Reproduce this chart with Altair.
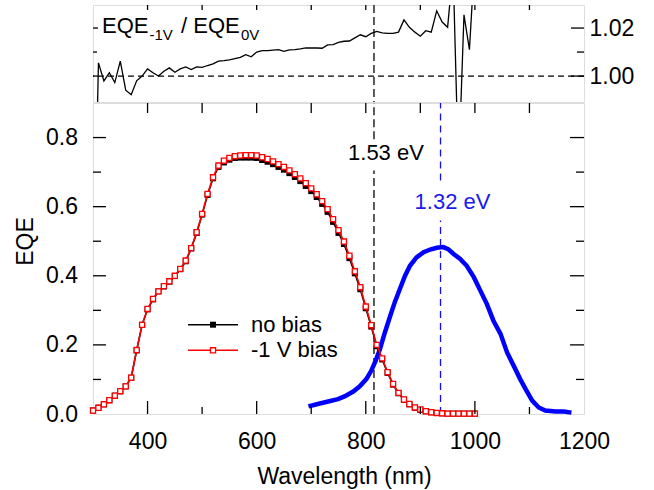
import altair as alt
import pandas as pd

# ---------------- data ----------------
wl = list(range(300, 1001, 10))
eqe_bias = [0.010, 0.018, 0.028, 0.040, 0.053, 0.066, 0.080, 0.105, 0.185, 0.258,
            0.304, 0.333, 0.355, 0.370, 0.384, 0.400, 0.420, 0.444, 0.480, 0.526,
            0.579, 0.637, 0.685, 0.719, 0.733, 0.741, 0.746, 0.748, 0.749, 0.749,
            0.748, 0.743, 0.738, 0.731, 0.723, 0.715, 0.705, 0.694, 0.682, 0.668,
            0.653, 0.636, 0.616, 0.593, 0.564, 0.532, 0.499, 0.458, 0.413, 0.367,
            0.311, 0.257, 0.200, 0.161, 0.121, 0.087, 0.061, 0.042, 0.029, 0.019,
            0.013, 0.008, 0.005, 0.003, 0.002, 0.001, 0.001, 0.001, 0.001, 0.001,
            0.001]
eqe_nobias = [0.010, 0.018, 0.028, 0.040, 0.053, 0.066, 0.080, 0.105, 0.184, 0.258,
              0.303, 0.332, 0.355, 0.369, 0.383, 0.399, 0.419, 0.442, 0.479, 0.524,
              0.577, 0.634, 0.682, 0.715, 0.728, 0.736, 0.741, 0.742, 0.742, 0.742,
              0.741, 0.735, 0.730, 0.723, 0.715, 0.707, 0.697, 0.686, 0.674, 0.660,
              0.645, 0.628, 0.608, 0.585, 0.556, 0.524, 0.492, 0.451, 0.407, 0.361,
              0.306, 0.253, 0.196, 0.158, 0.119, 0.085, 0.060, 0.041, 0.028, 0.018,
              0.012, 0.008, 0.005, 0.003, 0.002, 0.001, 0.001, 0.001, 0.001, 0.001,
              0.001]
ratio = [0.900, 1.0055, 0.998, 1.0014, 0.9973, 1.0062, 0.9941, 0.9922, 0.998, 1.000,
         1.003, 1.0014, 1.000, 1.002, 1.0034, 1.0016, 1.003, 1.0038, 1.0027, 1.0038,
         1.0036, 1.0044, 1.0051, 1.0062, 1.0064, 1.0067, 1.0073, 1.0078, 1.0089, 1.008,
         1.010, 1.0106, 1.0106, 1.0108, 1.011, 1.0103, 1.0109, 1.011, 1.0113, 1.0117,
         1.0117, 1.0117, 1.0116, 1.013, 1.0131, 1.014, 1.0145, 1.0146, 1.0159, 1.0172,
         1.0164, 1.0178, 1.0186, 1.018, 1.0178, 1.0178, 1.0183, 1.0234, 1.0203, 1.0183,
         1.0166, 1.0189, 1.0183, 1.0272, 1.0225, 1.0203, 1.045, 0.960, 1.0255, 1.011,
         1.050]

blue_wl = [695, 712, 731, 749, 761, 777, 789, 801, 810, 818, 826, 835, 844, 853, 863,
           872, 881, 893, 906, 918, 930, 942, 951, 961, 973, 985, 998, 1010, 1022,
           1034, 1047, 1059, 1071, 1083, 1093, 1105, 1117, 1129, 1148, 1163, 1177]
blue_eqe = [0.022, 0.029, 0.036, 0.043, 0.051, 0.065, 0.080, 0.101, 0.125, 0.154,
            0.188, 0.236, 0.280, 0.323, 0.364, 0.400, 0.429, 0.453, 0.468, 0.476,
            0.481, 0.483, 0.477, 0.463, 0.449, 0.429, 0.396, 0.357, 0.318, 0.270,
            0.232, 0.178, 0.140, 0.101, 0.072, 0.039, 0.019, 0.010, 0.007, 0.007,
            0.004]

x_labels = [400, 600, 800, 1000, 1200]
x_major = [400, 600, 800, 1000]
x_minor = [500, 700, 900, 1100]
x_all = [400, 500, 600, 700, 800, 900, 1000, 1100]
y_labels = [0.0, 0.2, 0.4, 0.6, 0.8]
y_major = [0.2, 0.4, 0.6, 0.8]
y_minor = [0.1, 0.3, 0.5, 0.7]
r_labels = [1.00, 1.02]
r_minor = [1.01]

gap_wl = 815      # 1.53 eV
peak_wl = 937     # 1.32 eV

# ---------------- layout ----------------
W = 491
H_TOP = 97
H_BOT = 311
FONT = "Liberation Sans"
FS = 23

df = pd.DataFrame({"wl": wl, "bias": eqe_bias, "nobias": eqe_nobias, "ratio": ratio})
dfb = pd.DataFrame({"wl": blue_wl, "eqe": blue_eqe})

xs = alt.Scale(domain=[300, 1200], nice=False, zero=False)
ys = alt.Scale(domain=[0, 0.9], nice=False, zero=False)
yr = alt.Scale(domain=[0.9892, 1.0296], nice=False, zero=False)

# ======== axes ========
xaxis = alt.Axis(values=x_labels, format="d", ticks=False, domain=False, grid=False,
                 labelFlush=False, labelFontSize=FS, labelFont=FONT, labelPadding=16.5,
                 labelColor="black", title="Wavelength (nm)", titleFont=FONT,
                 titleFontSize=FS, titleFontWeight="normal", titleColor="black",
                 titleX=251, titleY=69, titleBaseline="alphabetic", titleAlign="center")
yaxis = alt.Axis(values=y_labels, format=".1f", ticks=False, domain=False, grid=False,
                 labelFlush=False, labelFontSize=FS, labelFont=FONT, labelPadding=15.5,
                 labelColor="black", title="EQE", titleFont=FONT, titleFontSize=FS,
                 titleFontWeight="normal", titleColor="black",
                 titleX=-68, titleY=138, titleBaseline="middle", titleAlign="center")
raxis = alt.Axis(values=r_labels, format=".2f", ticks=False, domain=False, grid=False,
                 labelFlush=False, labelFontSize=FS, labelFont=FONT, labelPadding=5,
                 labelColor="black", title=None, orient="right")


def X(field, scale, axis):
    return alt.X(field, scale=scale, axis=axis)


def Y(field, scale, axis):
    return alt.Y(field, scale=scale, axis=axis)


# ======== bottom panel ========
base = alt.Chart(df)
nob_line = base.mark_line(color="black", strokeWidth=1.6).encode(
    x=X("wl:Q", xs, xaxis), y=Y("nobias:Q", ys, yaxis))
nob_pts = base.mark_point(shape="square", filled=True, color="black", size=36, opacity=1).encode(
    x=X("wl:Q", xs, xaxis), y=Y("nobias:Q", ys, yaxis))
bias_line = base.mark_line(color="#ff0000", strokeWidth=1.6).encode(
    x=X("wl:Q", xs, xaxis), y=Y("bias:Q", ys, yaxis))
bias_pts = base.mark_point(shape="square", filled=True, fill="white", stroke="#ff0000",
                           strokeWidth=1.3, size=26, opacity=1).encode(
    x=X("wl:Q", xs, xaxis), y=Y("bias:Q", ys, yaxis))
blue_line = alt.Chart(dfb).mark_line(color="#0000ff", strokeWidth=4.5).encode(
    x=X("wl:Q", xs, xaxis), y=Y("eqe:Q", ys, yaxis))

seg_k = pd.DataFrame({"wl": [gap_wl, gap_wl], "y0": [0.795, 0.0], "y1": [0.9, 0.705]})
seg_b = pd.DataFrame({"wl": [peak_wl, peak_wl], "y0": [0.676, 0.0], "y1": [0.9, 0.56]})
black_dash = alt.Chart(seg_k).mark_rule(color="#333333", strokeWidth=1.6,
                                        strokeDash=[8, 4]).encode(
    x=X("wl:Q", xs, xaxis), y=Y("y0:Q", ys, yaxis), y2="y1:Q")
blue_dash = alt.Chart(seg_b).mark_rule(color="#1010ee", strokeWidth=1.3,
                                       strokeDash=[7, 5]).encode(
    x=X("wl:Q", xs, xaxis), y=Y("y0:Q", ys, yaxis), y2="y1:Q")

lbl_k_df = pd.DataFrame({"wl": [837], "y": [0.755], "t": ["1.53 eV"]})
lbl_b_df = pd.DataFrame({"wl": [959], "y": [0.613], "t": ["1.32 eV"]})
lbl_k = alt.Chart(lbl_k_df).mark_text(font=FONT, fontSize=FS - 1, color="black",
                                      align="center", baseline="middle").encode(
    x=X("wl:Q", xs, xaxis), y=Y("y:Q", ys, yaxis), text="t:N")
lbl_b = alt.Chart(lbl_b_df).mark_text(font=FONT, fontSize=FS - 1, color="#1a1aee",
                                      align="center", baseline="middle").encode(
    x=X("wl:Q", xs, xaxis), y=Y("y:Q", ys, yaxis), text="t:N")


# inward ticks
def xticks(vals, y_from, y_to, axis):
    return alt.Chart(pd.DataFrame({"v": vals})).mark_rule(color="black", strokeWidth=1.3).encode(
        x=X("v:Q", xs, axis), y=alt.value(y_from), y2=alt.value(y_to))


def yticks(vals, scale, axis, x_from, x_to):
    return alt.Chart(pd.DataFrame({"v": vals})).mark_rule(color="black", strokeWidth=1.3).encode(
        y=Y("v:Q", scale, axis), x=alt.value(x_from), x2=alt.value(x_to))


bt = [
    xticks(x_major, H_BOT, H_BOT - 13, xaxis),
    xticks(x_minor, H_BOT, H_BOT - 7, xaxis),
    xticks(x_all, 0, 10, xaxis),
    yticks(y_major, ys, yaxis, 0, 13),
    yticks(y_minor, ys, yaxis, 0, 8),
    yticks(y_major, ys, yaxis, W - 14, W),
    yticks(y_minor, ys, yaxis, W - 8, W),
]

# legend (manual)
leg_y1, leg_y2 = 221.7, 247.3
leg_k = pd.DataFrame({"t": ["no bias"]})
leg_r = pd.DataFrame({"t": ["-1 V bias"]})
leg_line_k = alt.Chart(leg_k).mark_rule(color="black", strokeWidth=1.6).encode(
    x=alt.value(95), x2=alt.value(145), y=alt.value(leg_y1))
leg_pt_k = alt.Chart(leg_k).mark_point(shape="square", filled=True, color="black",
                                       size=36, opacity=1).encode(
    x=alt.value(120), y=alt.value(leg_y1))
leg_line_r = alt.Chart(leg_r).mark_rule(color="#ff0000", strokeWidth=1.6).encode(
    x=alt.value(95), x2=alt.value(145), y=alt.value(leg_y2))
leg_pt_r = alt.Chart(leg_r).mark_point(shape="square", filled=True, fill="white",
                                       stroke="#ff0000", strokeWidth=1.3, size=26,
                                       opacity=1).encode(
    x=alt.value(120), y=alt.value(leg_y2))
leg_txt_k = alt.Chart(leg_k).mark_text(font=FONT, fontSize=FS - 1, align="left",
                                       baseline="middle", color="black").encode(
    x=alt.value(158), y=alt.value(leg_y1), text="t:N")
leg_txt_r = alt.Chart(leg_r).mark_text(font=FONT, fontSize=FS - 1, align="left",
                                       baseline="middle", color="black").encode(
    x=alt.value(158), y=alt.value(leg_y2), text="t:N")

bottom = alt.layer(
    black_dash, blue_dash, blue_line, nob_line, nob_pts, bias_line, bias_pts,
    lbl_k, lbl_b, *bt,
    leg_line_k, leg_pt_k, leg_line_r, leg_pt_r, leg_txt_k, leg_txt_r,
).properties(width=W, height=H_BOT)

# ======== top panel ========
ratio_line = alt.Chart(df).mark_line(color="black", strokeWidth=1.3, clip=True).encode(
    x=X("wl:Q", xs, None), y=Y("ratio:Q", yr, raxis))
one = alt.Chart(pd.DataFrame({"v": [1.0]})).mark_rule(color="black", strokeWidth=1.3,
                                                      strokeDash=[6, 4]).encode(
    y=Y("v:Q", yr, raxis))
vgap = alt.Chart(pd.DataFrame({"v": [gap_wl]})).mark_rule(color="#333333", strokeWidth=1.6,
                                                         strokeDash=[8, 4]).encode(
    x=X("v:Q", xs, None))

ttl = pd.DataFrame({"a": ["EQE"], "b": ["-1V"], "c": ["/ EQE"], "d": ["0V"]})
t1 = alt.Chart(ttl).mark_text(font=FONT, fontSize=22, align="left", baseline="alphabetic",
                              color="black").encode(x=alt.value(9), y=alt.value(27.7), text="a:N")
t2 = alt.Chart(ttl).mark_text(font=FONT, fontSize=15, align="left", baseline="alphabetic",
                              color="black").encode(x=alt.value(56.5), y=alt.value(35.3), text="b:N")
t3 = alt.Chart(ttl).mark_text(font=FONT, fontSize=22, align="left", baseline="alphabetic",
                              color="black").encode(x=alt.value(88), y=alt.value(27.7), text="c:N")
t4 = alt.Chart(ttl).mark_text(font=FONT, fontSize=15, align="left", baseline="alphabetic",
                              color="black").encode(x=alt.value(148), y=alt.value(35.3), text="d:N")

tt = [
    xticks(x_all, 0, 5, None),
    yticks(r_labels, yr, raxis, 0, 5),
    yticks(r_minor, yr, raxis, 0, 4),
    yticks(r_labels, yr, raxis, W - 13, W),
    yticks(r_minor, yr, raxis, W - 7, W),
]

top = alt.layer(one, vgap, ratio_line, t1, t2, t3, t4, *tt).properties(width=W, height=H_TOP)

chart = alt.vconcat(top, bottom, spacing=1, bounds="flush").properties(
    padding={"left": 13, "top": 3, "right": 0, "bottom": 0},
).configure_view(stroke="black", strokeWidth=1.6).configure(background="white")

chart.save("out.html", embed_options={"renderer": "svg", "actions": False})
